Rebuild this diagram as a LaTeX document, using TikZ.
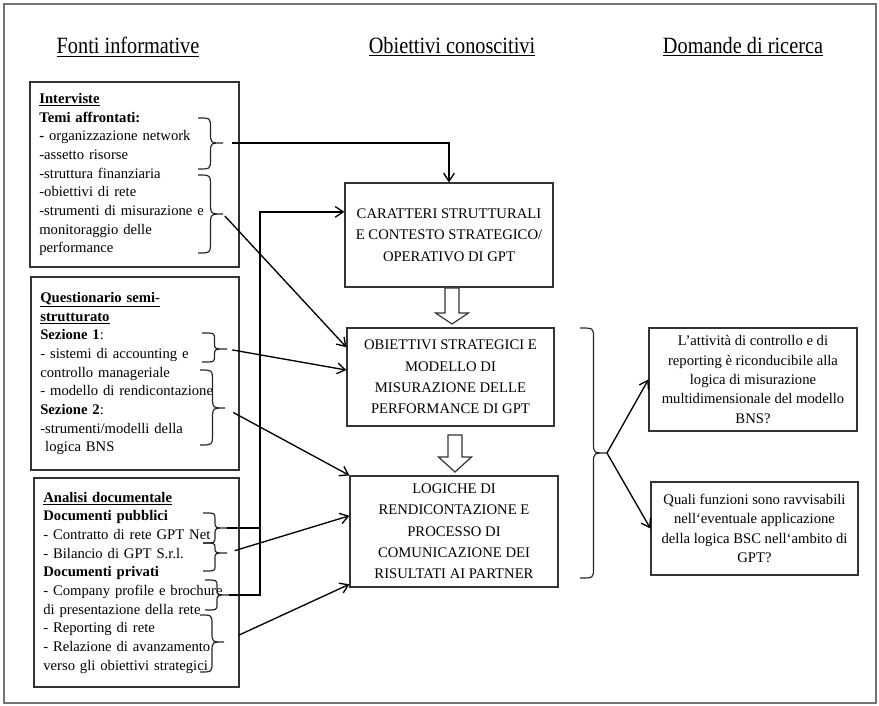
\documentclass[tikz,border=0pt]{standalone}
\usepackage{fontspec}
\setmainfont{Liberation Serif}
\newfontfamily\headfont[FakeStretch=0.87]{Liberation Serif}
\usetikzlibrary{arrows.meta,calc}

% curly brace: name, x of ends, top, tip, bottom, width, radius
\newcommand{\curly}[7]{%
  \draw[curl] (#2,#3) .. controls ({#2+0.5*#6},#3) .. ({#2+0.5*#6},{#3+#7})
    -- ({#2+0.5*#6},{#4-#7}) .. controls ({#2+0.5*#6},#4) .. ({#2+#6},#4)
    .. controls ({#2+0.5*#6},#4) .. ({#2+0.5*#6},{#4+#7})
    -- ({#2+0.5*#6},{#5-#7}) .. controls ({#2+0.5*#6},#5) .. (#2,#5);
  \coordinate (#1) at ({#2+#6},#4);}

% hollow block arrow pointing down: x, top, head start, tip
\newcommand{\hollowdown}[4]{%
  \draw[block] ({#1-7},#2) -- ({#1-7},#3) -- ({#1-16.5},#3) -- (#1,#4)
    -- ({#1+16.5},#3) -- ({#1+7},#3) -- ({#1+7},#2) -- cycle;}

\begin{document}
\begin{tikzpicture}[x=0.75pt,y=-0.75pt,
    heading/.style={font=\headfont\fontsize{17.5}{20}\selectfont},
    source/.style={draw=black!80, line width=0.9pt, align=left, inner xsep=7pt,
      font=\fontsize{11}{14}\selectfont},
    goal/.style={draw=black!80, line width=0.9pt, align=center,
      font=\fontsize{11}{16}\selectfont},
    question/.style={draw=black!80, line width=0.9pt, align=center,
      font=\fontsize{11}{14.5}\selectfont},
    link/.style={line width=1pt, -{Straight Barb[length=6pt,width=8pt]}},
    bar/.style={line width=1pt},
    curl/.style={line width=0.9pt, black!85},
    block/.style={line width=0.9pt, draw=black!80, fill=white},
    frame/.style={line width=2.2pt, draw=black!55}]
  \useasboundingbox (0,0) rectangle (879,706);
  \draw[frame] (4,4) rectangle (876,703);

  \node[heading] (h1) at (128,47) {\underline{Fonti informative}};
  \node[heading] (h2) at (452,47) {\underline{Obiettivi conoscitivi}};
  \node[heading] (h3) at (743,47) {\underline{Domande di ricerca}};

  \node[source, text width=142.75pt, minimum height=138.75pt] (int) at (134.5,174.5)
    {\underline{\textbf{Interviste}}\\
     \textbf{Temi affrontati:}\\
     \textbf{-} organizzazione network\\
     -assetto risorse\\
     -struttura finanziaria\\
     -obiettivi di rete\\
     -strumenti di misurazione e\\
     monitoraggio delle\\
     performance};
  \node[source, text width=142pt, minimum height=144.75pt] (que) at (135,373.5)
    {\underline{\textbf{Questionario semi-}}\\
     \underline{\textbf{strutturato}}\\
     \textbf{Sezione 1}:\\
     - sistemi di accounting e\\
     controllo manageriale\\
     - modello di rendicontazione\\
     \textbf{Sezione 2}:\\
     -strumenti/modelli della\\
     \ logica BNS};
  \node[source, text width=139.75pt, minimum height=156.75pt] (ana) at (136.5,582.5)
    {\underline{\textbf{Analisi documentale}}\\
     \textbf{Documenti pubblici}\\
     - Contratto di rete GPT Net\\
     - Bilancio di GPT S.r.l.\\
     \textbf{Documenti privati}\\
     - Company profile e brochure\\
     di presentazione della rete\\
     - Reporting di rete\\
     - Relazione di avanzamento\\
     verso gli obiettivi strategici};

  \node[goal, minimum width=156pt, minimum height=78pt] (oc1) at (449,235)
    {CARATTERI STRUTTURALI\\E CONTESTO STRATEGICO/\\OPERATIVO DI GPT};
  \node[goal, minimum width=155.25pt, minimum height=73.5pt] (oc2) at (450.5,377)
    {OBIETTIVI STRATEGICI E\\MODELLO DI\\MISURAZIONE DELLE\\PERFORMANCE DI GPT};
  \node[goal, minimum width=156pt, minimum height=83.25pt] (oc3) at (454,531.5)
    {LOGICHE DI\\RENDICONTAZIONE E\\PROCESSO DI\\COMUNICAZIONE DEI\\RISULTATI AI PARTNER};

  \node[question, minimum width=156pt, minimum height=77.25pt] (dr1) at (753,379.5)
    {L’attività di controllo e di\\reporting è riconducibile alla\\logica di misurazione\\multidimensionale del modello\\BNS?};
  \node[question, minimum width=155.25pt, minimum height=69.75pt] (dr2) at (754.5,528.5)
    {Quali funzioni sono ravvisabili\\nell‘eventuale applicazione\\della logica BSC nell‘ambito di\\GPT?};

  \hollowdown{452}{288}{313}{324}
  \hollowdown{455}{435}{457}{472}

  \curly{i1}{198}{118}{143}{169}{25}{10}
  \curly{i2}{198}{175}{214}{253}{25}{12}
  \curly{q1}{202}{333}{349}{362}{25}{6}
  \curly{q2}{200}{370}{408}{445}{25}{12}
  \curly{a1}{203}{513}{528}{543}{24}{6}
  \curly{a2}{203}{543}{553}{571}{24}{5}
  \curly{a3}{205}{580}{595}{610}{24}{6}
  \curly{a4}{200}{615}{642}{672}{24}{10}
  \curly{rb}{580}{328}{453}{578}{27}{10}

  \coordinate (bus) at (260,595);
  \draw[link, shorten <=7pt] (i1) -| (oc1.north);
  \draw[link, shorten <=2pt] (i2) -- ($(oc2.north west)!0.2!(oc2.south west)$);
  \draw[link, shorten <=4pt] (q1) -- ($(oc2.north west)!0.43!(oc2.south west)$);
  \draw[link, shorten <=7pt] (q2) -- (oc3.north west);
  \draw[link, shorten <=6pt] (a2) -- ($(oc3.north west)!0.36!(oc3.south west)$);
  \draw[link, shorten <=12pt] (a4) -- ($(oc3.north west)!0.97!(oc3.south west)$);
  \draw[bar] (a1) -- (a1 -| bus);
  \draw[link] (a3) -- (bus) |- ($(oc1.north west)!0.28!(oc1.south west)$);
  \draw[link] (rb) -- (dr1.west);
  \draw[link] (rb) -- (dr2.west);
\end{tikzpicture}
\end{document}
